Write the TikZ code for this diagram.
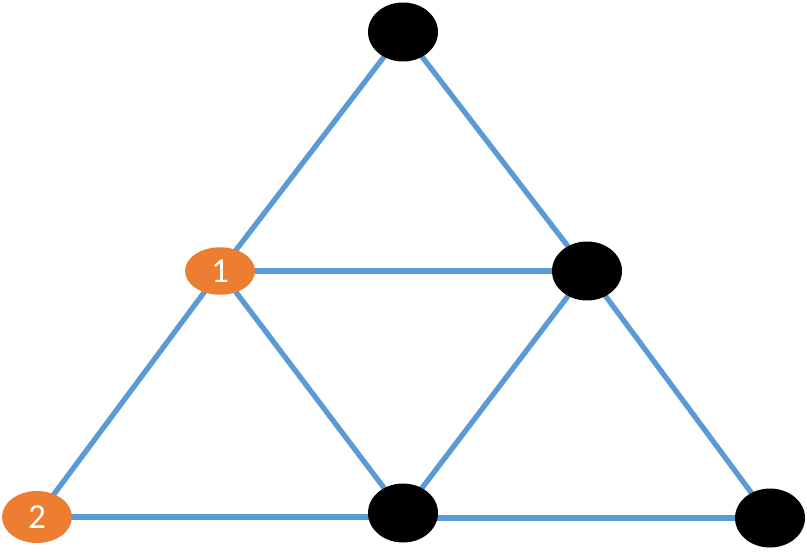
\documentclass[tikz,border=0pt]{standalone}
\usepackage{fontspec}
\setmainfont{Carlito}
\usepackage{xcolor}
\usepackage{tikz}
\usetikzlibrary{shapes.geometric, positioning, calc, backgrounds}

\definecolor{edgeblue}{HTML}{5B9BD5}
\definecolor{nodeorange}{HTML}{ED7D31}

\begin{document}
\begin{tikzpicture}[
        x=0.02cm, y=-0.02cm,
        vertex/.style={ellipse, minimum width=1.4cm, minimum height=1.18cm, inner sep=0pt, fill=black},
        marked/.style={ellipse, minimum width=1.4cm, minimum height=0.95cm, inner sep=0pt, fill=nodeorange, text=white, font=\fontsize{20}{24}\selectfont},
        edge/.style={draw=edgeblue, line width=3pt}
    ]
        \useasboundingbox (0,0) rectangle (807,551);

        % Vertices
        \node (top) [vertex] at (403,32) {};
        \node (one) [marked] at (220,271) {1};
        \node (midright) [vertex] at (587,271) {};
        \node (two) [marked, minimum height=1.04cm] at (37,517) {2};
        \node (botmid) [vertex] at (403,513) {};
        \node (botright) [vertex] at (770,518) {};

        % Edges (behind the vertices)
        \begin{scope}[on background layer]
        \draw [edge] (top.center) -- (one.center);
        \draw [edge] (top.center) -- (midright.center);
        \draw [edge] (one.center) -- (midright.center);
        \draw [edge] (one.center) -- (two.center);
        \draw [edge] (one.center) -- (botmid.center);
        \draw [edge] (midright.center) -- (botmid.center);
        \draw [edge] (midright.center) -- (botright.center);
        \draw [edge] (two.center) -- (two -| botmid);
        \draw [edge] (botmid |- botright) -- (botright.center);
        \end{scope}
    \end{tikzpicture}
\end{document}
